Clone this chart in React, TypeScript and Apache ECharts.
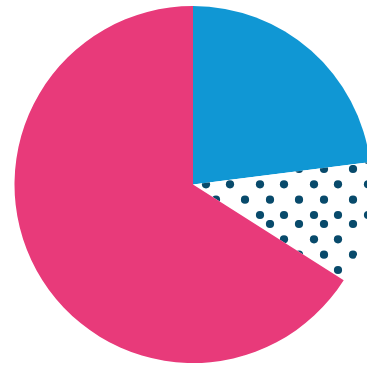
import React, { useEffect, useRef } from "react";
import * as echarts from "echarts";

const categories = ["Blue", "Dotted", "Pink"];
const values = [23, 11, 66];
const colors = ["#1097d4", "pattern", "#e83a7a"];

function makeDotTile(): HTMLCanvasElement {
  const W = 54;
  const H = 55;
  const c = document.createElement("canvas");
  c.width = W;
  c.height = H;
  const ctx = c.getContext("2d")!;
  ctx.fillStyle = "#ffffff";
  ctx.fillRect(0, 0, W, H);
  ctx.fillStyle = "#084a6b";
  const rowsA = [4, 34.7];
  const rowsB = [19.3, 50];
  const xsA = [0, 29];
  const xsB = [14, 44];
  const pts: [number, number][] = [];
  rowsA.forEach((y) => xsA.forEach((x) => pts.push([x, y])));
  rowsB.forEach((y) => xsB.forEach((x) => pts.push([x, y])));
  pts.forEach(([x, y]) => {
    for (const dx of [-W, 0, W]) {
      for (const dy of [-H, 0, H]) {
        ctx.beginPath();
        ctx.arc(x + dx, y + dy, 4.1, 0, Math.PI * 2);
        ctx.fill();
      }
    }
  });
  return c;
}

export default function App() {
  const ref = useRef<HTMLDivElement>(null);
  useEffect(() => {
    if (!ref.current) return;
    const chart = echarts.init(ref.current, undefined, { renderer: "svg" });
    const tile = makeDotTile();
    chart.setOption({
      animation: false,
      series: [
        {
          type: "pie",
          center: [193, 184.5],
          radius: 178.5,
          startAngle: 90,
          clockwise: true,
          label: { show: false },
          labelLine: { show: false },
          emphasis: { disabled: true },
          itemStyle: { borderWidth: 0 },
          data: categories.map((name, i) => ({
            name,
            value: values[i],
            itemStyle: {
              color:
                colors[i] === "pattern"
                  ? { image: tile, repeat: "repeat" }
                  : colors[i],
            },
          })),
        },
      ],
    });
    return () => chart.dispose();
  }, []);
  return (
    <div
      ref={ref}
      style={{ position: "fixed", left: 0, top: 0, width: 367, height: 365, background: "#ffffff" }}
    />
  );
}
